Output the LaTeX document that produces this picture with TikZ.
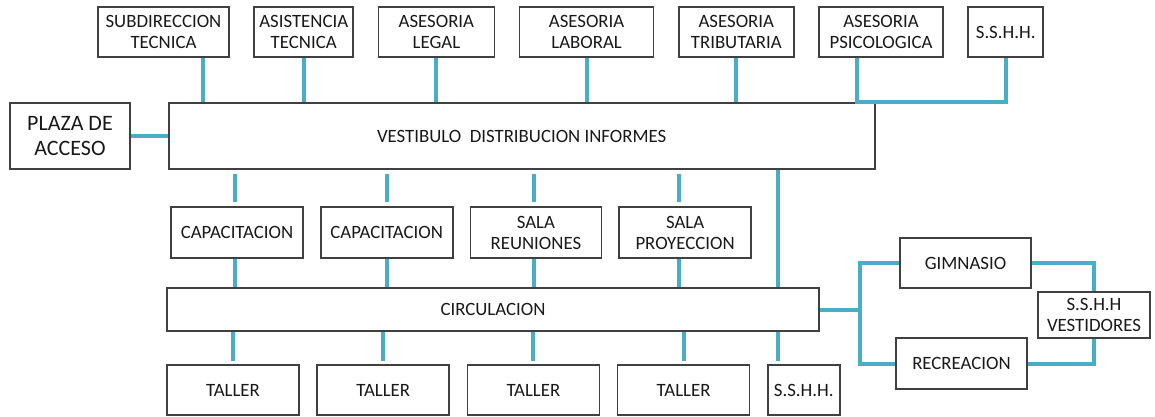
\documentclass[tikz,border=0pt]{standalone}
\usepackage{fontspec}
\setmainfont{Carlito}
\usetikzlibrary{positioning,calc}
\definecolor{aqua}{HTML}{4BACC6}
\definecolor{edge}{HTML}{404040}

\begin{document}
\begin{tikzpicture}[
  x=1pt, y=-1pt,
  every node/.style={font=\fontsize{18.8}{21}\selectfont, text=black!90},
  room/.style={draw=edge, line width=1.7pt, fill=white, align=center,
               inner sep=0pt, minimum height=50pt},
  link/.style={aqua, line width=4pt},
]
\useasboundingbox (0,0) rectangle (1155,416);

% upper row of offices
\node[room, minimum width=131pt] (subd) at (163.5,32) {SUBDIRECCION\\TECNICA};
\node[room, minimum width=99pt, right=23.5pt of subd] (asist) {ASISTENCIA\\TECNICA};
\node[room, minimum width=116pt, right=23.5pt of asist] (legal) {ASESORIA\\LEGAL};
\node[room, minimum width=134pt, right=23.5pt of legal] (labor) {ASESORIA\\LABORAL};
\node[room, minimum width=115pt, right=23.5pt of labor] (tribu) {ASESORIA\\TRIBUTARIA};
\node[room, minimum width=124pt, right=23.5pt of tribu] (psico) {ASESORIA\\PSICOLOGICA};
\node[room, minimum width=75pt, right=23.5pt of psico] (banoA) {S.S.H.H.};

% access and hall
\node[room, minimum width=120pt, minimum height=66pt,
      font=\fontsize{22}{25}\selectfont] (plaza) at (70,136) {PLAZA DE\\ACCESO};
\node[room, minimum width=706pt, minimum height=66pt, right=37pt of plaza] (vest)
  {VESTIBULO\ \ DISTRIBUCION INFORMES};

% middle row
\node[room, minimum width=132pt, minimum height=51pt] (capA) at (237,232.5) {CAPACITACION};
\node[room, minimum width=132pt, minimum height=51pt, right=16pt of capA] (capB) {CAPACITACION};
\node[room, minimum width=131pt, minimum height=51pt, right=16pt of capB] (reun) {SALA\\REUNIONES};
\node[room, minimum width=132pt, minimum height=51pt, right=16pt of reun] (proy) {SALA\\PROYECCION};

% corridor
\node[room, minimum width=652pt, minimum height=43pt] (circ) at (493,309.5) {CIRCULACION};

% lower row
\node[room, minimum width=132pt] (tallA) at (233,390) {TALLER};
\node[room, minimum width=132pt, right=16.5pt of tallA] (tallB) {TALLER};
\node[room, minimum width=132pt, right=16.5pt of tallB] (tallC) {TALLER};
\node[room, minimum width=132pt, right=16.5pt of tallC] (tallD) {TALLER};
\node[room, minimum width=72pt, right=16.5pt of tallD] (banoB) {S.S.H.H.};

% sports wing
\node[room, minimum width=131pt] (gim) at (965.5,263) {GIMNASIO};
\node[room, minimum width=131pt, minimum height=51pt] (recr) at (961.5,363.5) {RECREACION};
\node[room, minimum width=112pt, minimum height=46pt] (vesti) at (1094,315) {S.S.H.H\\VESTIDORES};

% connectors
\coordinate (subdp) at ($(subd.south)+(39.5pt,0)$);
\coordinate (psicop) at ($(psico.south)+(-24pt,0)$);
\coordinate (riser) at ($(vest.south west)+(610pt,0)$);

\draw[link] (subdp) -- (subdp |- vest.north);
\foreach \n in {asist,legal,labor,tribu}
  \draw[link] (\n.south) -- (\n.south |- vest.north);
\draw[link] (psicop) -- (psicop |- vest.north) -| (banoA.south);
\draw[link] (plaza) -- (vest);

\foreach \n/\dx in {capA/-2,capB/0,reun/-2,proy/-6} {
  \draw[link, shorten <=4pt, shorten >=4pt]
    ([xshift=\dx pt]\n.north |- vest.south) -- ([xshift=\dx pt]\n.north);
  \draw[link] ([xshift=\dx pt]\n.south) -- ([xshift=\dx pt]\n.south |- circ.north);
}
\draw[link] (riser) -- (riser |- circ.north);

\foreach \n in {tallA,tallB,tallC,tallD}
  \draw[link, shorten >=3pt] (\n.north |- circ.south) -- (\n.north);
\draw[link, shorten >=3pt] (riser |- circ.south) -- (riser |- banoB.north);

\draw[link] (circ.east) -- ++(40pt,0) coordinate (fork);
\draw[link] (gim.west) -| (fork) |- (recr.west);
\draw[link] (gim.east) -| (vesti.north);
\draw[link] (recr.east) -| (vesti.south);
\end{tikzpicture}
\end{document}
